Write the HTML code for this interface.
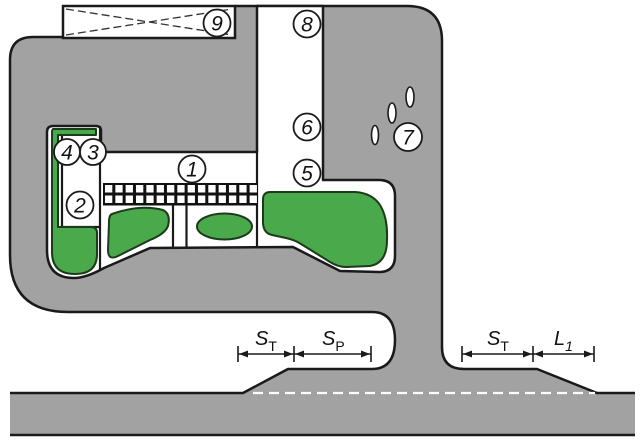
<!DOCTYPE html>
<html><head><meta charset="utf-8"><style>
html,body{margin:0;padding:0;background:#fff;}
svg{display:block;}
text{font-family:"Liberation Sans",Arial,sans-serif;}
</style></head><body>
<svg width="641" height="443" viewBox="0 0 641 443" xmlns="http://www.w3.org/2000/svg">
<defs>
<pattern id="g" x="103" y="183" width="10.33" height="10.5" patternUnits="userSpaceOnUse">
<rect width="10.33" height="10.5" fill="#111"/><rect x="2" y="2" width="7.3" height="7.5" fill="#fff"/>
</pattern>
</defs>
<!-- gray fill -->
<path d="M10,60 Q10,37 33,37 L63,37 L63,6 L407,6 Q442,6 442,41 L442,347 Q442,369 464,369 L537,369 L597,393 L635,393 L635,435 L10,435 L10,393 L243,393 L288,369 L372,369 Q395,369 395,340 Q395,312 372,312 L68,312 Q10,312 10,255 Z" fill="#a2a2a2"/>
<!-- outlines -->
<g fill="none" stroke="#1a1a1a" stroke-width="2.5" stroke-linejoin="round">
<path d="M10,435 L635,435"/>
<path d="M10,393 L243,393 L288,369 L372,369 Q395,369 395,340 Q395,312 372,312 L68,312 Q10,312 10,255 L10,60 Q10,37 33,37 L63,37"/>
<path d="M235,6 L407,6 Q442,6 442,41 L442,347 Q442,369 464,369 L537,369 L597,393 L635,393"/>
</g>
<!-- white dashed line -->
<path d="M253,393 L595,393" stroke="#fff" stroke-width="2.2" stroke-dasharray="10 6"/>
<!-- box 9 -->
<rect x="63" y="6" width="172" height="32" fill="#fff" stroke="#1a1a1a" stroke-width="2.5"/>
<g stroke="#333" stroke-width="1.3" stroke-dasharray="8 4">
<line x1="66" y1="9" x2="232" y2="35"/>
<line x1="66" y1="35" x2="232" y2="9"/>
</g>
<!-- white parking region -->
<path d="M257,6 L257,152 L101,152 L101,131 Q101,126 96,126 L53,126 Q47,126 47,132 L47,250 Q47,278 74,278 Q86,278 104,268 L150,248 L293,247 L340,271 L379,272 Q395,272 395,256 L395,196 Q395,180 379,180 L323,180 L323,6 Z" fill="#fff" stroke="#1a1a1a" stroke-width="2.5" stroke-linejoin="round"/>
<!-- internal lines -->
<g stroke="#1a1a1a" stroke-width="2.2" fill="none">
<path d="M62,136 L62,227 L100,227"/>
<path d="M100,126 L100,270"/>
<path d="M257,150 L257,248"/>
<path d="M173,204 L173,248"/>
<path d="M186.5,204 L186.5,248"/>
</g>
<!-- grid -->
<rect x="103" y="183" width="155" height="22.5" fill="url(#g)"/>
<!-- green areas -->
<g fill="#4aa94a" stroke="#1c3a1c" stroke-width="2" stroke-linejoin="round">
<path d="M53,129 L96,129 L96,135 L58,135 L58,227 L91,227 Q97,227 97,233 L97,254 Q97,274 75,274 Q52,274 52,252 L52,131 Z"/>
<path d="M112,214 Q140,204 163,210 Q171,214 168,226 Q165,234 150,240 L118,256 Q108,261 108,250 L109,222 Q109,215 112,214 Z"/>
<ellipse cx="224.5" cy="226.5" rx="27.5" ry="13"/>
<path d="M270,192 L355,192 Q372,193 380,205 Q388,218 387,240 Q387,263 370,266 L346,267 Q338,267 330,262 L301,244 Q295,240 286,238 L272,235 Q263,233 263,222 L263,198 Q264,192 270,192 Z"/>
</g>
<!-- small ellipses -->
<g fill="#fff" stroke="#1a1a1a" stroke-width="1.6">
<ellipse cx="375" cy="135" rx="3.5" ry="9.5"/>
<ellipse cx="392" cy="113" rx="4" ry="10"/>
<ellipse cx="410" cy="97" rx="4" ry="10"/>
</g>
<!-- numbered circles -->
<g fill="#fff" stroke="#1a1a1a" stroke-width="1.8">
<circle cx="217" cy="23" r="13.5"/>
<circle cx="307" cy="24" r="13.5"/>
<circle cx="307" cy="127" r="13.5"/>
<circle cx="307" cy="173" r="13.5"/>
<circle cx="408" cy="137" r="14"/>
<circle cx="67" cy="152" r="13"/>
<circle cx="93" cy="152" r="13"/>
<circle cx="192" cy="169" r="13.5"/>
<circle cx="80" cy="205" r="13.5"/>
</g>
<g font-size="21" font-style="italic" text-anchor="middle" fill="#111">
<text x="217" y="30.5">9</text>
<text x="307" y="31.5">8</text>
<text x="307" y="134.5">6</text>
<text x="307" y="180.5">5</text>
<text x="408" y="144.5">7</text>
<text x="67" y="159.5">4</text>
<text x="93" y="159.5">3</text>
<text x="192" y="176.5">1</text>
<text x="80" y="212.5">2</text>
</g>
<!-- dimension lines -->
<g stroke="#1a1a1a" stroke-width="1.6">
<line x1="238" y1="354" x2="371" y2="354"/>
<line x1="238" y1="346" x2="238" y2="362"/>
<line x1="294" y1="346" x2="294" y2="362"/>
<line x1="371" y1="346" x2="371" y2="362"/>
<line x1="462" y1="354" x2="594" y2="354"/>
<line x1="462" y1="346" x2="462" y2="362"/>
<line x1="533" y1="346" x2="533" y2="362"/>
<line x1="594" y1="346" x2="594" y2="362"/>
</g>
<g fill="#1a1a1a">
<path d="M239,354 L248,350.5 L248,357.5 Z"/>
<path d="M293,354 L284,350.5 L284,357.5 Z"/>
<path d="M295,354 L304,350.5 L304,357.5 Z"/>
<path d="M370,354 L361,350.5 L361,357.5 Z"/>
<path d="M463,354 L472,350.5 L472,357.5 Z"/>
<path d="M532,354 L523,350.5 L523,357.5 Z"/>
<path d="M534,354 L543,350.5 L543,357.5 Z"/>
<path d="M593,354 L584,350.5 L584,357.5 Z"/>
</g>
<g fill="#111">
<text x="255" y="345" font-size="20" font-style="italic">S<tspan font-size="14" font-style="normal" dy="6">T</tspan></text>
<text x="322" y="345" font-size="20" font-style="italic">S<tspan font-size="14" font-style="normal" dy="6">P</tspan></text>
<text x="487" y="345" font-size="20" font-style="italic">S<tspan font-size="14" font-style="normal" dy="6">T</tspan></text>
<text x="554" y="345" font-size="20" font-style="italic">L<tspan font-size="14" dy="6">1</tspan></text>
</g>
</svg>
</body></html>
